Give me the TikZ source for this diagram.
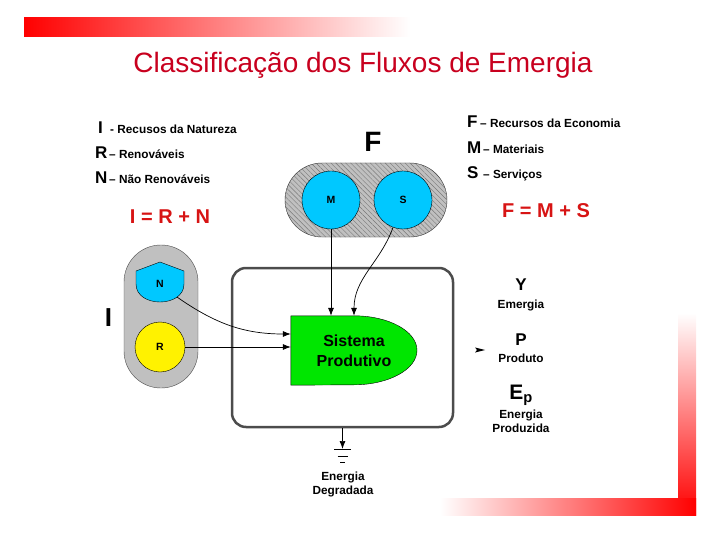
\documentclass[tikz,border=0pt]{standalone}
\usepackage{fontspec}
\setmainfont{Liberation Sans}
\usetikzlibrary{arrows.meta,patterns.meta}
\definecolor{titlered}{RGB}{200,0,30}
\definecolor{eqred}{RGB}{215,20,20}
\definecolor{srccyan}{RGB}{0,200,255}
\definecolor{prodgreen}{RGB}{0,230,0}
\definecolor{pillgray}{RGB}{192,192,192}
\definecolor{hatchgray}{RGB}{120,120,120}
\tikzset{
	letter/.style={font=\bfseries\fontsize{17}{19}\selectfont},
	small/.style={font=\bfseries\fontsize{11.8}{14}\selectfont},
	eqn/.style={font=\bfseries\fontsize{20}{22}\selectfont, text=eqred},
	flow/.style={-{Latex[length=8pt,width=6pt]}, line width=0.7pt},
	source/.style={circle, draw, thin, minimum size=58pt, inner sep=0pt, font=\bfseries\fontsize{10.5}{12}\selectfont}
}
\begin{document}
\begin{tikzpicture}[x=1pt,y=-1pt]
	\useasboundingbox (0,0) rectangle (720,540);
	% faixas
	\shade[left color=red, right color=white] (24,18) rectangle (410,37);
	\shade[top color=white, bottom color=red] (678,313) rectangle (696,515);
	\shade[left color=white, right color=red] (440,498) rectangle (696,515);
	\node[font=\fontsize{28}{30}\selectfont, text=titlered, anchor=base] (title) at (363,73) {Classificação dos Fluxos de Emergia};
	% legenda I
	\node[letter, anchor=base west, inner sep=0pt] (lI) at (98,134) {I};
	\node[small, anchor=base west, inner sep=0pt] (lItxt) at (110,134) {- Recusos da Natureza};
	\node[letter, anchor=base west, inner sep=0pt] (lR) at (95,159) {R};
	\node[small, anchor=base west, inner sep=0pt] (lRtxt) at (109,159) {– Renováveis};
	\node[letter, anchor=base west, inner sep=0pt] (lN) at (95,184) {N};
	\node[small, anchor=base west, inner sep=0pt] (lNtxt) at (109,184) {– Não Renováveis};
	\node[eqn, anchor=base] (eqI) at (170,224) {I = R + N};
	% legenda F
	\node[letter, anchor=base west, inner sep=0pt] (lF) at (467,128) {F};
	\node[small, anchor=base west, inner sep=0pt] (lFtxt) at (480,128) {– Recursos da Economia};
	\node[letter, anchor=base west, inner sep=0pt] (lM) at (467,154) {M};
	\node[small, anchor=base west, inner sep=0pt] (lMtxt) at (483,154) {– Materiais};
	\node[letter, anchor=base west, inner sep=0pt] (lS) at (467,179) {S};
	\node[small, anchor=base west, inner sep=0pt] (lStxt) at (483,179) {– Serviços};
	\node[eqn, anchor=base] (eqF) at (546,218) {F = M + S};
	% fontes F
	\node[font=\bfseries\fontsize{28}{30}\selectfont, anchor=base] (Flab) at (373,152) {F};
	\node[draw=black!80, rounded corners=37pt, minimum width=162pt, minimum height=74pt,
		preaction={fill=pillgray}, pattern={Lines[angle=-45,distance=3.5pt,line width=0.4pt]}, pattern color=hatchgray] (Fpill) at (366,200) {};
	\node[source, fill=srccyan] (M) at (331,200) {M};
	\node[source, fill=srccyan] (S) at (403,200) {S};
	% fontes I
	\node[font=\bfseries\fontsize{26}{28}\selectfont, anchor=base] (Ilab) at (108.5,326) {I};
	\node[draw=black!70, fill=pillgray, rounded corners=37pt, minimum width=74pt, minimum height=143pt] (Ipill) at (161,316.5) {};
	\filldraw[fill=srccyan, thin] (160,262) -- (184,271) -- (184,284) .. controls (184,296) and (172,302) .. (160,302)
		.. controls (148,302) and (136,296) .. (136,284) -- (136,271) -- cycle;
	\node[font=\bfseries\fontsize{10.5}{12}\selectfont] (N) at (160,284) {N};
	\coordinate (Nout) at (177,297);
	\node[source, fill=yellow, minimum size=50pt] (R) at (160,347) {R};
	% sistema
	\node[draw=black!70, line width=2.5pt, rounded corners=14pt, minimum width=221pt, minimum height=159pt] (sys) at (342.5,347.5) {};
	\node[minimum width=126pt, minimum height=69pt, inner sep=0pt] (prod) at (354,350.5) {};
	\filldraw[fill=prodgreen, thin] (prod.south west) -- (prod.north west) -- (prod.north)
		arc[start angle=90, end angle=-90, x radius=63pt, y radius=34.5pt] -- cycle;
	\node[font=\bfseries\fontsize{16}{20}\selectfont, align=center] (prodtxt) at (354,351) {Sistema\\Produtivo};
	% fluxos
	\draw[flow] (M.south) -- (M.south |- prod.north);
	\draw[flow] (S.250) to[out=-110,in=90] (prod.north);
	\draw[flow] (Nout) to[out=-35,in=180] ([yshift=16.5pt]prod.west);
	\draw[flow] (R.east) -- (R.east -| prod.west);
	\coordinate (gnd) at (342.5,449);
	\draw[flow] (sys.south) -- (gnd);
	\draw (334,449) -- (351,449) (337.5,456) -- (347.5,456) (340,462) -- (345,462);
	\node[small, align=center, anchor=base] (deg) at (343,494) {Energia\\Degradada};
	% saidas
	\node[letter, anchor=base] (Y) at (521,290) {Y};
	\node[small, anchor=base] (Ytxt) at (521,308) {Emergia};
	\node[letter, anchor=base] (P) at (521,345) {P};
	\node[small, anchor=base] (Ptxt) at (521,362) {Produto};
	\node[font=\bfseries\fontsize{21}{23}\selectfont, anchor=base] (Ep) at (521,399) {E\textsubscript{p}};
	\node[small, align=center, anchor=base] (Eptxt) at (521,432) {Energia\\Produzida};
	\fill (475,347.5) -- (485,350) -- (475,352.5) -- (477,350) -- cycle;
\end{tikzpicture}
\end{document}
